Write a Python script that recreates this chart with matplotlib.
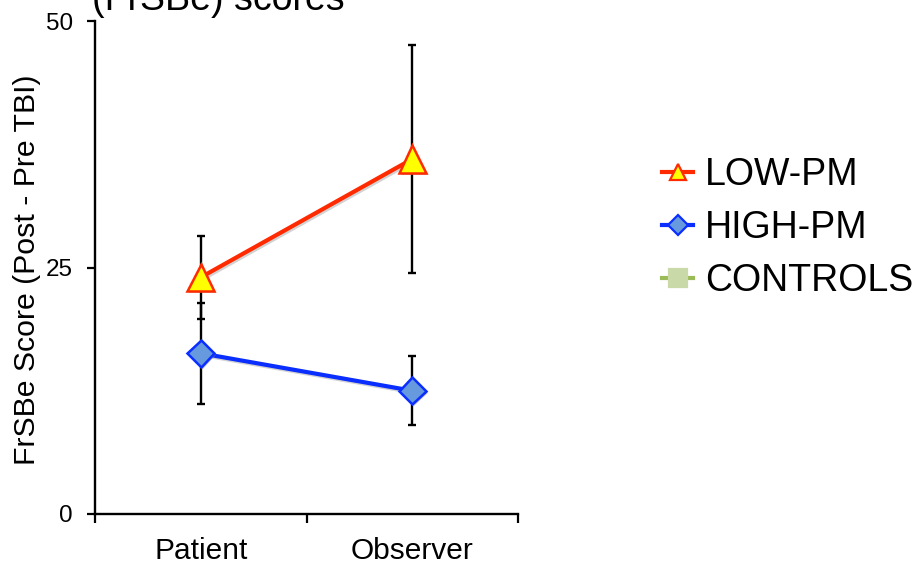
import numpy as np
import matplotlib
matplotlib.use("Agg")
import matplotlib.pyplot as plt
from matplotlib.lines import Line2D
import matplotlib.patheffects as pe

plt.rcParams['font.family'] = ['Liberation Sans', 'DejaVu Sans']

# FrSBe change scores (post - pre TBI) by rater
categories = ["Patient", "Observer"]
low_pm = [24.0, 36.0]
low_pm_err = [4.2, 11.6]
high_pm = [16.3, 12.5]
high_pm_err = [5.1, 3.5]
controls = [np.nan, np.nan]
controls_err = [np.nan, np.nan]
series_names = ["LOW-PM", "HIGH-PM", "CONTROLS"]
y_ticks = [0, 25, 50]

W, H = 922, 564
fig = plt.figure(figsize=(W / 100, H / 100), dpi=100)
ax = fig.add_axes([95 / W, 50 / H, 423 / W, 493 / H])

x = np.arange(1, len(categories) + 1)

styles = [
    dict(color="#FF2A00", face="#FFFF00", marker="^", ms=19.5, lms=11),
    dict(color="#0A2EFF", face="#6699DD", marker="D", ms=13.5, lms=10),
    dict(color="#9BBB59", face="#C9D9A8", marker="s", ms=13, lms=12.5),
]
data = [(low_pm, low_pm_err), (high_pm, high_pm_err), (controls, controls_err)]

line_shadow = [pe.SimpleLineShadow(offset=(1.2, -1.2), shadow_color="gray", alpha=0.35), pe.Normal()]
marker_shadow = [pe.SimplePatchShadow(offset=(1.5, -1.5), shadow_rgbFace="gray", alpha=0.45), pe.Normal()]

for (vals, errs), st in zip(data, styles):
    ax.errorbar(x, vals, yerr=errs, fmt="none", ecolor="black", elinewidth=1.7,
                capsize=3.2, capthick=1.7, zorder=2)
    ax.plot(x, vals, color=st["color"], lw=3.0, solid_capstyle="round",
            zorder=3, path_effects=line_shadow)
    mec = st["color"] if st["marker"] != "s" else st["face"]
    ax.plot(x, vals, ls="none", marker=st["marker"], ms=st["ms"],
            mfc=st["face"], mec=mec, mew=1.8, zorder=4,
            path_effects=marker_shadow)

ax.set_xlim(0.5, 2.5)
ax.set_ylim(0, 50)
ax.set_yticks(y_ticks)
ax.set_yticklabels([str(t) for t in y_ticks])
ax.set_xticks([0.5, 1.5, 2.5])
ax.set_xticklabels([])
ax.set_xticks(x, minor=True)
ax.set_xticklabels(categories, minor=True)
ax.tick_params(axis="x", which="major", direction="out", length=6.5, width=1.6)
ax.tick_params(axis="x", which="minor", length=0, pad=16.5, labelsize=21.5)
ax.tick_params(axis="y", direction="out", length=6, width=1.6, pad=10, labelsize=17.5)

for side in ("top", "right"):
    ax.spines[side].set_visible(False)
for side in ("left", "bottom"):
    ax.spines[side].set_linewidth(1.7)
    ax.spines[side].set_color("black")

ax.set_ylabel("FrSBe Score (Post - Pre TBI)", fontsize=21.8)
ax.yaxis.set_label_coords((41 - 95) / 423, 0.495)

handles = []
for st, name in zip(styles, series_names):
    mec = st["color"] if st["marker"] != "s" else st["face"]
    handles.append(Line2D([0], [0], color=st["color"], lw=3.0, marker=st["marker"],
                          ms=st["lms"], mfc=st["face"], mec=mec, mew=1.6))
fig.legend(handles, series_names, loc="center left",
           bbox_to_anchor=(662 / W, 1 - 228 / H), frameon=False, fontsize=27,
           handlelength=0.83, handletextpad=0.32, labelspacing=0.46,
           borderpad=0, borderaxespad=0)

fig.text(92 / W, 1 - 10 / H, "(FrSBe) scores", fontsize=27, va="baseline", ha="left")

fig.savefig("out.png", dpi=100)
